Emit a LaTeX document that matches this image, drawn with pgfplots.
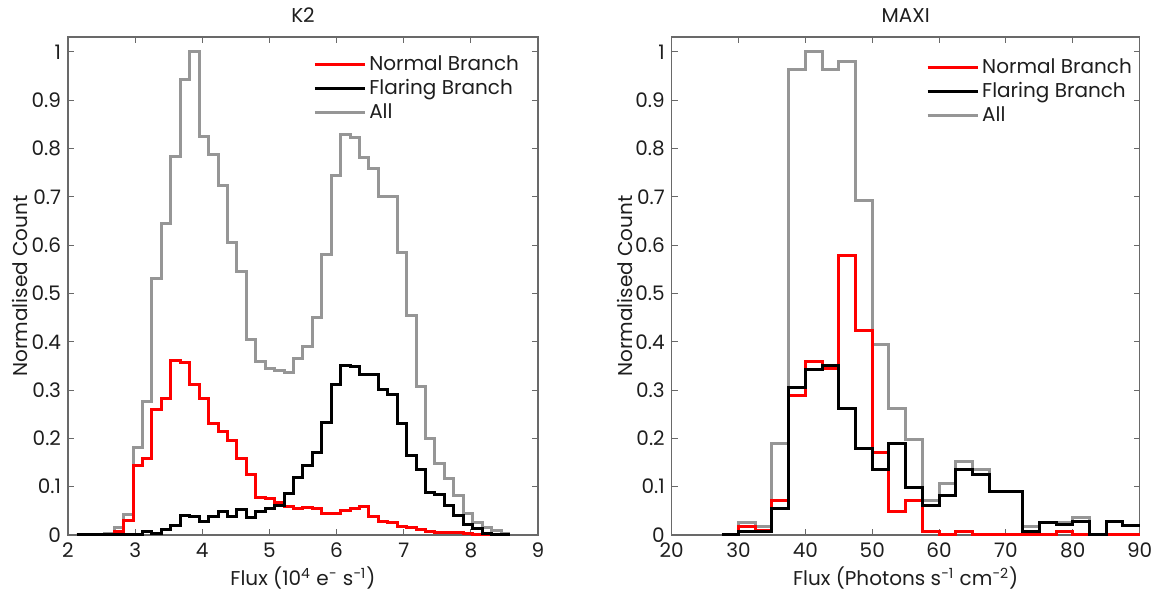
\documentclass[border=0pt]{standalone}
\usepackage{pgfplots}
\pgfplotsset{compat=1.18}
\usepackage{pgfplotstable}
\usepackage{fontspec}
\setmainfont{Poppins}

\definecolor{axgray}{RGB}{105,105,105}
\definecolor{allgray}{RGB}{150,150,150}
\definecolor{txt}{RGB}{30,30,30}

\pgfplotstableread{
x red black gray
2.127 0 0 0
2.2675 0 0 0
2.408 0 0 0
2.5485 0.002 0 0.003
2.689 0.008 0 0.015
2.8295 0.031 0 0.043
2.970 0.143 0 0.182
3.1105 0.159 0.007 0.276
3.251 0.259 0.003 0.531
3.3915 0.283 0.012 0.645
3.532 0.362 0.020 0.783
3.6725 0.358 0.041 0.942
3.813 0.311 0.038 1.000
3.9535 0.283 0.028 0.825
4.094 0.231 0.038 0.787
4.2345 0.214 0.048 0.723
4.375 0.195 0.038 0.606
4.5155 0.158 0.053 0.545
4.656 0.126 0.036 0.405
4.7965 0.078 0.048 0.360
4.937 0.076 0.055 0.345
5.0775 0.068 0.062 0.340
5.218 0.059 0.086 0.337
5.3585 0.055 0.119 0.366
5.499 0.057 0.143 0.391
5.6395 0.055 0.170 0.451
5.780 0.045 0.233 0.580
5.9205 0.045 0.311 0.745
6.061 0.050 0.351 0.830
6.2015 0.055 0.349 0.823
6.342 0.058 0.333 0.782
6.4825 0.038 0.333 0.759
6.623 0.028 0.302 0.700
6.7635 0.025 0.290 0.700
6.904 0.017 0.231 0.585
7.0445 0.015 0.164 0.455
7.185 0.012 0.135 0.308
7.3255 0.007 0.088 0.200
7.466 0.006 0.083 0.148
7.6065 0.005 0.062 0.117
7.747 0.005 0.041 0.081
7.8875 0.004 0.021 0.045
8.028 0.002 0.014 0.025
8.1685 0 0.003 0.015
8.309 0 0.002 0.010
8.4495 0 0 0.004
8.590 0 0 0.004
}\ktwo

\pgfplotstableread{
x red black gray
27.5 0 0 0
30 0.017 0.007 0.026
32.5 0.009 0.007 0.017
35 0.072 0.054 0.190
37.5 0.288 0.306 0.963
40 0.360 0.342 1.000
42.5 0.344 0.351 0.963
45 0.578 0.261 0.981
47.5 0.423 0.179 0.692
50 0.170 0.135 0.395
52.5 0.048 0.190 0.262
55 0.071 0.098 0.197
57.5 0.007 0.062 0.071
60 0 0.081 0.107
62.5 0.007 0.136 0.153
65 0 0.126 0.135
67.5 0 0.091 0.091
70 0 0.091 0.091
72.5 0 0.007 0.017
75 0 0.026 0.026
77.5 0.007 0.021 0.026
80 0 0.027 0.037
82.5 0 0 0
85 0 0.027 0.027
87.5 0 0.019 0.019
90 0 0.019 0.019
}\maxi

\newcommand{\lblfont}{\fontsize{10}{12}\selectfont}

\pgfplotsset{
  hist/.style={
    scale only axis,
    height=249pt,
    ymin=0, ymax=1.031,
    ytick={0,0.1,0.2,0.3,0.4,0.5,0.6,0.7,0.8,0.9,1},
    yticklabel style={/pgf/number format/fixed,/pgf/number format/precision=1,
      inner sep=0.5pt, xshift=-2.8pt},
    xticklabel style={inner sep=0.5pt, yshift=-3.4pt},
    /pgf/number format/assume math mode=true,
    tick align=inside,
    major tick length=3pt,
    axis line style={axgray, line width=0.6pt},
    tick style={axgray, line width=0.5pt},
    tick label style={font=\lblfont, text=txt},
    label style={font=\lblfont, text=txt},
    every axis title/.style={font=\lblfont, text=txt, at={(axis description cs:0.5,1.044)}, anchor=center},
    ylabel style={at={(axis description cs:-0.102,0.5)}, anchor=center},
    xlabel style={at={(axis description cs:0.5,-0.086)}, anchor=center},
    clip=false,
    legend style={draw=none, fill=none, font=\lblfont, text=txt, inner sep=0pt, row sep=0pt,
      nodes={inner sep=1.5pt}},
    legend cell align=left,
    legend image code/.code={\draw[##1] (0pt,0pt) -- (25pt,0pt);},
  },
  redh/.style={red, line width=1.5pt, const plot},
  blkh/.style={black, line width=1.5pt, const plot},
  grah/.style={allgray, line width=1.5pt, const plot},
}

\begin{document}
\begin{tikzpicture}
\path[use as bounding box] (-34pt,-29pt) rectangle (542pt,267.5pt);
\begin{axis}[hist, at={(0pt,0pt)}, anchor=south west, width=235pt,
  xmin=2, xmax=9, xtick={2,3,4,5,6,7,8,9},
  title={K2},
  xlabel={Flux (10\textsuperscript{4} e\textsuperscript{−} s\textsuperscript{−1})},
  ylabel={Normalised Count},
  legend style={at={(axis description cs:0.521,0.970)}, anchor=north west}]
\addplot[grah, forget plot] table[x=x,y=gray]{\ktwo};
\addplot[redh] table[x=x,y=red]{\ktwo};
\addplot[blkh] table[x=x,y=black]{\ktwo};
\addlegendimage{allgray, line width=1.5pt}
\legend{Normal Branch, Flaring Branch, All}
\end{axis}
\begin{axis}[hist, at={(301.85pt,0pt)}, anchor=south west, width=234pt,
  xmin=20, xmax=90, xtick={20,30,40,50,60,70,80,90},
  title={MAXI},
  xlabel={Flux (Photons s\textsuperscript{−1} cm\textsuperscript{−2})},
  ylabel={Normalised Count},
  ylabel style={at={(axis description cs:-0.0998,0.5)}},
  legend style={at={(axis description cs:0.543,0.964)}, anchor=north west}]
\addplot[grah, forget plot] table[x=x,y=gray]{\maxi};
\addplot[redh] table[x=x,y=red]{\maxi};
\addplot[blkh] table[x=x,y=black]{\maxi};
\addlegendimage{allgray, line width=1.5pt}
\legend{Normal Branch, Flaring Branch, All}
\end{axis}
\end{tikzpicture}
\end{document}
